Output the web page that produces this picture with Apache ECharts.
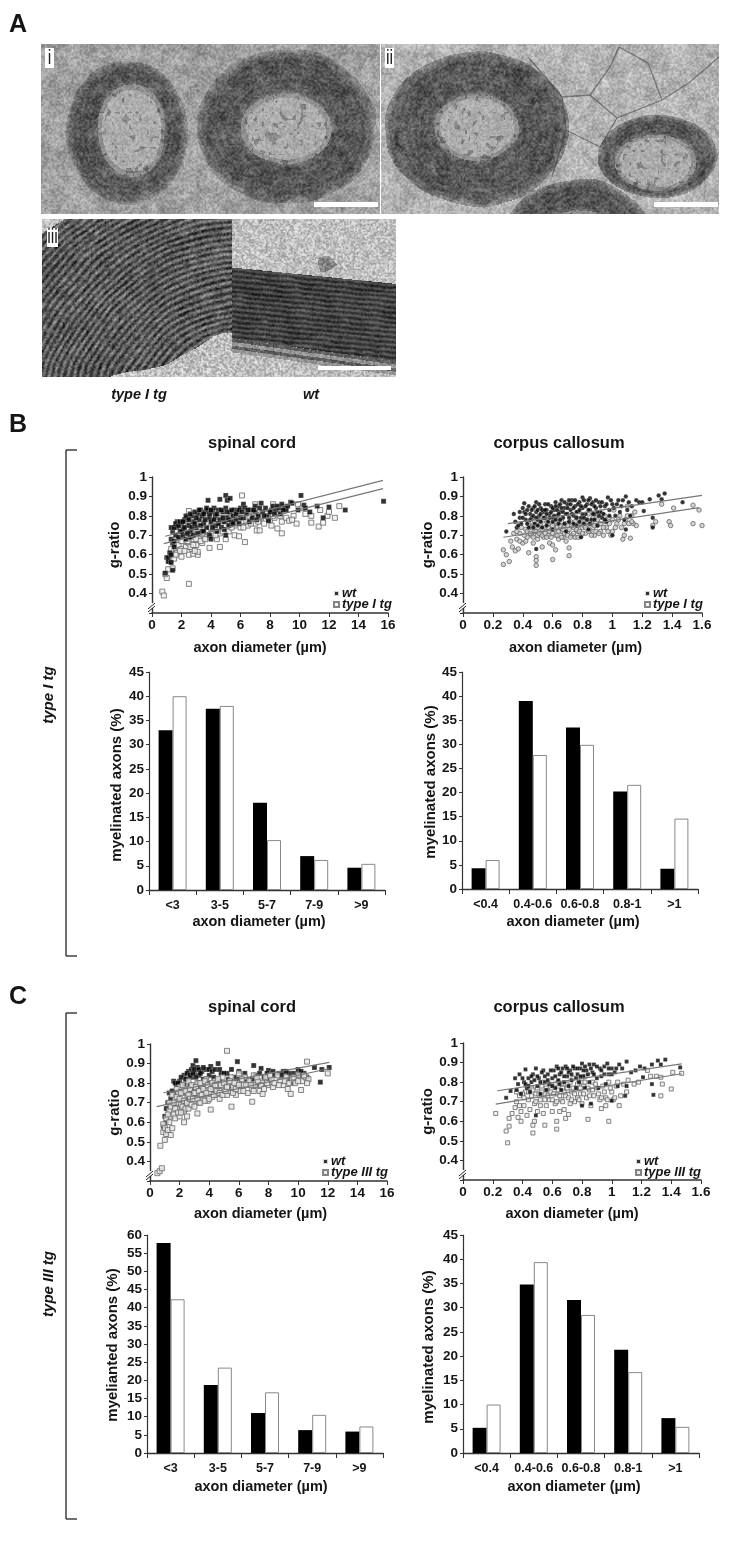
<!DOCTYPE html>
<html>
<head>
<meta charset="utf-8">
<title>g-ratio</title>
<script src="https://cdn.jsdelivr.net/npm/echarts@6/dist/echarts.min.js"></script>
<style>
html, body { margin: 0; padding: 0; background: #fff; }
#main { width: 750px; height: 1550px; }
</style>
</head>
<body>
<div id="main"></div>
<script>
// values
const spinalBins = ["<3", "3-5", "5-7", "7-9", ">9"];
const callosumBins = ["<0.4", "0.4-0.6", "0.6-0.8", "0.8-1", ">1"];

const barsSpinalIWt = [33, 37.4, 18, 7, 4.6];
const barsSpinalITg = [40, 38, 10.3, 6.2, 5.4];
const barsCallosumIWt = [4.3, 39, 33.5, 20.2, 4.2];
const barsCallosumITg = [6, 27.8, 29.9, 21.6, 14.6];
const barsSpinalIIIWt = [57.8, 18.7, 11, 6.3, 5.9];
const barsSpinalIIITg = [42.3, 23.5, 16.7, 10.5, 7.3];
const barsCallosumIIIWt = [5.2, 34.8, 31.6, 21.3, 7.2];
const barsCallosumIIITg = [10, 39.4, 28.5, 16.7, 5.4];

const fitSpinalIWt = [[0.9, 0.695], [15.66, 0.983]];
const fitSpinalITg = [[0.8, 0.657], [15.66, 0.94]];
const fitCallosumIWt = [[0.3, 0.76], [1.6, 0.905]];
const fitCallosumITg = [[0.27, 0.69], [1.58, 0.842]];
const fitSpinalIIIWt = [[0.9, 0.751], [12.1, 0.906]];
const fitSpinalIIITg = [[0.45, 0.68], [12.1, 0.875]];
const fitCallosumIIIWt = [[0.23, 0.756], [1.47, 0.893]];
const fitCallosumIIITg = [[0.22, 0.688], [1.47, 0.843]];

const spinalIWt = [[0.9,.505],[1,.585],[1.1,.585],[1.2,.61],[1.1,.565],[1.4,.52],[1.3,.56],[1.3,.6],[1.4,.66],[1.3,.68],[1.5,.64],[1.4,.72],[1.3,.74],[1.6,.7],[1.5,.67],[1.7,.77],[1.7,.74],[1.9,.72],[1.8,.69],[2,.76],[2.1,.73],[2.2,.78],[2.1,.7],[2.3,.68],[2.4,.79],[2.5,.75],[2.6,.72],[2.7,.8],[2.8,.77],[2.6,.69],[3,.74],[3.1,.81],[3.2,.78],[3.3,.83],[3.4,.72],[3.4,.8],[3.5,.76],[3.6,.82],[3.7,.74],[3.8,.88],[3.8,.83],[3.9,.7],[3.9,.79],[4,.68],[4,.77],[4.1,.82],[4.2,.84],[4.3,.75],[4.3,.8],[4.4,.72],[4.5,.83],[4.6,.885],[4.6,.78],[4.7,.74],[4.8,.82],[4.9,.77],[5,.905],[5,.84],[5,.7],[5.1,.88],[5.1,.79],[5.2,.75],[5.3,.82],[5.3,.89],[5.4,.77],[5.5,.8],[5.6,.83],[5.7,.78],[5.8,.82],[5.9,.76],[6,.84],[6.2,.86],[6.2,.79],[6.3,.84],[6.4,.81],[6.6,.77],[6.7,.83],[6.8,.79],[7,.82],[7,.85],[7.2,.8],[7.4,.865],[7.5,.82],[7.7,.84],[7.8,.8],[7.9,.775],[8.1,.83],[8.2,.85],[8.4,.83],[8.6,.84],[8.7,.81],[8.8,.86],[9,.84],[9.1,.83],[9.4,.87],[9.5,.865],[9.9,.83],[10.1,.905],[10.3,.855],[10.4,.84],[10.7,.82],[11.2,.85],[11.6,.79],[12,.845],[13.1,.83],[15.7,.875],
  [1.5,.74],[1.6,.76],[1.8,.75],[1.9,.77],[2,.72],[2.1,.77],[2.2,.74],[2.3,.8],[2.4,.71],[2.5,.78],[2.6,.81],[2.7,.74],[2.8,.7],[2.9,.82],[2.9,.76],[3,.79],[3.1,.71],[3.2,.83],[3.3,.75],[3.5,.81],[3.5,.72],[3.6,.78],[3.7,.84],[3.9,.81],[4,.83],[4.1,.74],[4.2,.78],[4.4,.81],[4.5,.76],[4.7,.83],[4.8,.79],[4.9,.73],[5.1,.82],[5.2,.78],[5.4,.83],[5.5,.76],[5.7,.81],[5.9,.83],[6,.79],[6.1,.82],[6.5,.83],[6.9,.83],[7.1,.78],[7.3,.84],[7.6,.8],[8,.82],[8.3,.81],[8.5,.85],[8.9,.83],[9.2,.85]];
const spinalITg = [[.7,.41],[.8,.39],[2.5,.45],[1,.48],[.9,.5],[1.1,.525],[1.4,.53],[1.2,.57],[1.3,.6],[1.5,.63],[1.6,.66],[1.7,.61],[1.8,.65],[1.9,.69],[2,.59],[2,.63],[2.1,.67],[2.1,.72],[2.2,.75],[2.3,.64],[2.3,.69],[2.4,.73],[2.5,.6],[2.5,.66],[2.5,.825],[2.6,.71],[2.6,.77],[2.7,.63],[2.8,.605],[2.8,.68],[2.9,.74],[2.9,.79],[3,.65],[3,.71],[3.1,.6],[3.1,.615],[3.1,.77],[3.2,.68],[3.3,.73],[3.3,.8],[3.4,.66],[3.5,.7],[3.5,.75],[3.6,.78],[3.7,.69],[3.8,.73],[3.9,.635],[3.9,.77],[4,.71],[4.1,.75],[4.2,.8],[4.3,.73],[4.4,.68],[4.4,.77],[4.5,.74],[4.6,.64],[4.6,.71],[4.7,.79],[4.8,.75],[5,.68],[5,.73],[5.1,.77],[5.2,.72],[5.3,.76],[5.4,.79],[5.6,.7],[5.6,.75],[5.8,.78],[5.9,.695],[6,.74],[6.1,.905],[6.2,.77],[6.3,.665],[6.5,.75],[6.6,.8],[6.8,.78],[7,.86],[7,.76],[7.1,.725],[7.3,.725],[7.4,.79],[7.6,.76],[7.8,.81],[8,.78],[8.1,.75],[8.2,.86],[8.3,.79],[8.5,.735],[8.6,.81],[8.8,.71],[8.8,.77],[8.9,.845],[9.1,.79],[9.3,.775],[9.6,.8],[9.8,.76],[9.9,.86],[10.2,.84],[10.4,.81],[10.8,.765],[10.8,.8],[11.3,.745],[11.4,.83],[11.6,.765],[11.9,.8],[12,.82],[12.4,.79],[12.7,.85],
  [1.3,.63],[1.5,.58],[1.6,.6],[1.8,.7],[1.9,.62],[2,.67],[2.1,.76],[2.2,.7],[2.2,.62],[2.3,.78],[2.4,.67],[2.5,.71],[2.6,.64],[2.7,.74],[2.7,.78],[2.8,.7],[2.8,.65],[2.9,.62],[3,.76],[3,.68],[3.1,.72],[3.2,.74],[3.3,.67],[3.3,.77],[3.4,.71],[3.5,.79],[3.6,.68],[3.6,.74],[3.7,.72],[3.8,.76],[3.9,.7],[4,.74],[4,.79],[4.1,.71],[4.2,.76],[4.3,.7],[4.5,.77],[4.6,.74],[4.8,.72],[4.9,.78],[5,.75],[5.2,.79],[5.4,.74],[5.7,.77],[5.9,.79],[6.2,.74],[6.4,.77],[6.7,.76],[7,.79],[7.2,.77],[7.5,.8],[7.9,.79],[8.2,.8],[8.7,.8],[9.5,.78]];

const callosumIWt = [[.29,.72],[.34,.81],[.35,.77],[.36,.74],[.38,.79],[.39,.76],[.41,.865],[.41,.82],[.42,.78],[.43,.83],[.44,.74],[.45,.81],[.46,.79],[.47,.84],[.48,.76],[.49,.87],[.49,.63],[.49,.82],[.5,.78],[.51,.8],[.52,.84],[.53,.74],[.54,.82],[.55,.86],[.55,.79],[.56,.83],[.57,.77],[.58,.81],[.59,.85],[.6,.79],[.6,.73],[.61,.83],[.62,.87],[.63,.8],[.64,.85],[.64,.76],[.65,.82],[.66,.88],[.67,.79],[.68,.84],[.69,.72],[.7,.86],[.7,.81],[.71,.77],[.72,.83],[.73,.88],[.74,.8],[.75,.85],[.76,.75],[.77,.82],[.78,.87],[.79,.69],[.79,.79],[.8,.895],[.8,.84],[.81,.76],[.82,.81],[.83,.86],[.84,.73],[.85,.89],[.85,.83],[.86,.78],[.87,.87],[.88,.81],[.89,.84],[.9,.75],[.91,.87],[.92,.82],[.93,.79],[.95,.85],[.96,.77],[.97,.895],[.98,.83],[1,.7],[1,.86],[1.02,.8],[1.04,.88],[1.06,.85],[1.08,.78],[1.09,.9],[1.09,.73],[1.11,.87],[1.13,.85],[1.16,.88],[1.18,.87],[1.2,.87],[1.21,.825],[1.25,.885],[1.27,.74],[1.27,.79],[1.31,.905],[1.33,.885],[1.35,.915],[1.47,.87],
  [.37,.75],[.38,.82],[.4,.79],[.4,.84],[.42,.81],[.43,.76],[.44,.85],[.45,.78],[.46,.83],[.47,.8],[.47,.74],[.48,.85],[.49,.79],[.5,.83],[.5,.75],[.51,.86],[.52,.81],[.52,.77],[.53,.83],[.54,.79],[.55,.83],[.56,.81],[.56,.75],[.57,.86],[.58,.79],[.59,.82],[.6,.84],[.6,.77],[.61,.8],[.62,.85],[.62,.78],[.63,.83],[.64,.81],[.65,.86],[.65,.78],[.66,.84],[.67,.82],[.68,.87],[.68,.76],[.69,.81],[.7,.84],[.71,.88],[.71,.79],[.72,.86],[.73,.81],[.74,.84],[.74,.76],[.75,.88],[.76,.82],[.76,.79],[.77,.86],[.78,.83],[.78,.77],[.79,.85],[.8,.81],[.81,.88],[.81,.79],[.82,.85],[.83,.78],[.84,.83],[.84,.88],[.85,.76],[.86,.86],[.87,.81],[.88,.85],[.88,.78],[.89,.88],[.9,.82],[.91,.8],[.92,.85],[.93,.87],[.94,.81],[.95,.78],[.96,.86],[.98,.8],[.99,.88],[1.01,.84],[1.03,.86],[1.05,.82],[1.07,.88],[1.1,.83],[1.12,.8]];
const callosumITg = [[.27,.55],[.27,.625],[.29,.6],[.31,.565],[.32,.67],[.33,.64],[.35,.62],[.36,.68],[.37,.63],[.38,.71],[.4,.66],[.42,.73],[.43,.69],[.44,.61],[.45,.75],[.46,.7],[.47,.66],[.48,.72],[.49,.59],[.49,.545],[.49,.57],[.5,.68],[.51,.75],[.52,.71],[.53,.64],[.54,.69],[.55,.74],[.56,.77],[.57,.7],[.58,.66],[.59,.73],[.6,.575],[.6,.65],[.61,.76],[.62,.625],[.62,.7],[.63,.74],[.64,.68],[.65,.78],[.66,.72],[.67,.69],[.68,.75],[.69,.67],[.7,.72],[.71,.595],[.71,.635],[.72,.77],[.73,.7],[.74,.74],[.75,.69],[.76,.79],[.77,.72],[.78,.76],[.79,.7],[.8,.74],[.81,.78],[.82,.71],[.83,.75],[.84,.81],[.85,.72],[.86,.77],[.87,.74],[.88,.7],[.89,.79],[.9,.75],[.92,.72],[.93,.81],[.94,.7],[.95,.77],[.96,.74],[.98,.79],[1,.72],[1.01,.83],[1.03,.76],[1.05,.8],[1.07,.68],[1.08,.7],[1.09,.78],[1.1,.85],[1.12,.685],[1.13,.8],[1.14,.76],[1.15,.82],[1.16,.75],[1.27,.75],[1.29,.77],[1.33,.86],[1.38,.77],[1.39,.75],[1.41,.84],[1.54,.855],[1.54,.76],[1.58,.83],[1.6,.75],
  [.34,.71],[.36,.72],[.38,.67],[.39,.74],[.41,.7],[.42,.67],[.43,.72],[.44,.76],[.45,.71],[.46,.74],[.47,.69],[.48,.77],[.49,.72],[.5,.7],[.5,.74],[.51,.71],[.52,.76],[.53,.7],[.53,.73],[.54,.78],[.55,.71],[.56,.69],[.57,.74],[.57,.76],[.58,.72],[.59,.69],[.6,.75],[.6,.71],[.61,.73],[.62,.77],[.63,.7],[.64,.72],[.65,.75],[.66,.69],[.66,.77],[.67,.73],[.68,.71],[.69,.76],[.7,.7],[.7,.75],[.71,.73],[.72,.69],[.73,.75],[.74,.71],[.75,.77],[.76,.73],[.77,.69],[.77,.75],[.78,.72],[.79,.77],[.8,.71],[.81,.75],[.82,.74],[.83,.78],[.84,.72],[.85,.76],[.86,.7],[.87,.79],[.88,.75],[.89,.72],[.9,.78],[.91,.71],[.92,.76],[.94,.74],[.95,.8],[.97,.72],[.98,.76],[.99,.7],[1,.78],[1.02,.74],[1.04,.78],[1.06,.74],[1.08,.76],[1.1,.8],[1.11,.76],[1.13,.77]];

const spinalIIIWt = [[.9,.58],[1,.63],[1.1,.6],[1.1,.67],[1.2,.7],[1.3,.75],[1.4,.72],[1.5,.76],[1.6,.81],[1.6,.69],[1.7,.74],[1.8,.79],[1.9,.72],[2,.81],[2,.76],[2.1,.7],[2.2,.78],[2.3,.84],[2.3,.67],[2.4,.75],[2.5,.82],[2.6,.86],[2.6,.72],[2.7,.79],[2.8,.87],[2.8,.83],[2.9,.89],[2.9,.76],[3,.85],[3,.74],[3.1,.915],[3.2,.88],[3.2,.8],[3.3,.84],[3.4,.78],[3.5,.86],[3.6,.82],[3.7,.75],[3.8,.87],[3.9,.8],[4,.84],[4.1,.885],[4.2,.78],[4.3,.83],[4.5,.76],[4.6,.9],[4.7,.81],[4.8,.85],[5,.79],[5.2,.85],[5.3,.82],[5.5,.77],[5.7,.83],[5.9,.91],[6,.82],[6.1,.78],[6.4,.85],[6.7,.8],[7,.89],[7.1,.84],[7.2,.79],[7.5,.875],[7.7,.83],[8,.865],[8.1,.82],[8.3,.86],[8.7,.85],[9,.86],[9.3,.82],[9.4,.85],[9.6,.8],[9.7,.85],[10,.87],[10.1,.84],[10.4,.85],[10.6,.83],[11.1,.88],[11.5,.805],[11.6,.87],[12.1,.88],
  [1.7,.8],[1.9,.8],[2.1,.83],[2.3,.79],[2.4,.82],[2.5,.85],[2.7,.84],[2.9,.85],[3,.87],[3.1,.83],[3.3,.87],[3.4,.85],[3.6,.88],[3.8,.82],[4,.87],[4.2,.86],[4.4,.87],[4.7,.87],[5,.85],[5.5,.87],[6,.86],[6.5,.82],[6.9,.82],[7.4,.85],[7.9,.85],[8.4,.84],[8.9,.84],[9.2,.86],[9.9,.84],[10.2,.86]];
const spinalIIITg = [[.5,.34],[.65,.35],[.8,.365],[.7,.48],[.9,.55],[.9,.59],[1,.51],[1,.57],[1.1,.54],[1.1,.62],[1.2,.56],[1.3,.6],[1.3,.66],[1.4,.535],[1.4,.63],[1.5,.57],[1.5,.69],[1.6,.64],[1.7,.72],[1.7,.62],[1.8,.67],[1.9,.75],[1.9,.7],[2,.63],[2,.78],[2.1,.69],[2.2,.73],[2.3,.6],[2.3,.66],[2.3,.77],[2.4,.71],[2.5,.63],[2.5,.75],[2.6,.81],[2.7,.69],[2.8,.73],[2.9,.78],[3,.71],[3.1,.75],[3.2,.645],[3.2,.8],[3.3,.7],[3.4,.74],[3.5,.78],[3.6,.72],[3.7,.76],[3.8,.82],[3.9,.71],[4,.75],[4.1,.665],[4.1,.79],[4.2,.73],[4.3,.77],[4.4,.81],[4.5,.74],[4.6,.79],[4.7,.72],[4.8,.76],[4.9,.83],[5,.78],[5.2,.965],[5.2,.74],[5.3,.8],[5.4,.76],[5.5,.68],[5.5,.83],[5.6,.78],[5.8,.74],[5.9,.8],[6,.85],[6.1,.76],[6.3,.79],[6.4,.83],[6.6,.75],[6.7,.81],[6.9,.705],[6.9,.77],[7,.84],[7.1,.79],[7.3,.81],[7.4,.76],[7.6,.745],[7.6,.8],[7.8,.83],[8,.79],[8.2,.82],[8.3,.78],[8.6,.84],[8.8,.81],[9,.79],[9.2,.83],[9.3,.77],[9.5,.745],[9.6,.82],[9.8,.8],[10,.84],[10.2,.765],[10.3,.81],[10.5,.83],[10.6,.91],[10.7,.82],[12,.85],
  [1.2,.64],[1.3,.7],[1.4,.68],[1.5,.74],[1.6,.7],[1.7,.67],[1.8,.73],[1.8,.77],[1.9,.65],[2,.72],[2.1,.75],[2.1,.65],[2.2,.68],[2.2,.79],[2.3,.71],[2.4,.76],[2.4,.67],[2.5,.7],[2.6,.74],[2.6,.67],[2.7,.77],[2.7,.72],[2.8,.69],[2.8,.79],[2.9,.72],[3,.75],[3,.68],[3.1,.78],[3.2,.72],[3.3,.76],[3.4,.7],[3.4,.8],[3.5,.74],[3.6,.77],[3.7,.71],[3.7,.81],[3.8,.75],[3.9,.79],[4,.72],[4.1,.77],[4.2,.8],[4.3,.74],[4.4,.79],[4.5,.76],[4.6,.82],[4.7,.75],[4.8,.79],[4.9,.74],[5,.8],[5.1,.76],[5.2,.78],[5.4,.81],[5.6,.75],[5.7,.8],[5.8,.77],[6,.79],[6.2,.82],[6.3,.76],[6.5,.79],[6.8,.79],[7,.76],[7.2,.83],[7.5,.79],[7.7,.77],[7.9,.8],[8.1,.84],[8.4,.8],[8.7,.79],[9.1,.81],[9.4,.8],[9.7,.83],[10,.81],[10.4,.84],[10.6,.8]];

const callosumIIIWt = [[.29,.72],[.32,.755],[.35,.82],[.36,.76],[.37,.79],[.38,.84],[.39,.74],[.41,.8],[.42,.865],[.43,.77],[.44,.82],[.45,.75],[.46,.8],[.47,.84],[.49,.87],[.49,.63],[.5,.78],[.51,.82],[.52,.74],[.54,.86],[.55,.8],[.56,.76],[.57,.84],[.58,.79],[.6,.82],[.61,.86],[.62,.77],[.63,.88],[.64,.81],[.65,.84],[.66,.76],[.67,.87],[.68,.8],[.69,.88],[.7,.83],[.71,.78],[.72,.86],[.73,.81],[.75,.87],[.76,.77],[.77,.84],[.78,.8],[.79,.87],[.8,.895],[.8,.68],[.81,.83],[.82,.77],[.83,.86],[.85,.89],[.85,.8],[.86,.69],[.87,.85],[.88,.89],[.9,.82],[.91,.77],[.92,.87],[.93,.83],[.95,.88],[.96,.79],[.97,.895],[.98,.84],[1,.705],[1,.87],[1.02,.85],[1.04,.78],[1.05,.89],[1.07,.87],[1.09,.73],[1.1,.905],[1.1,.78],[1.13,.85],[1.16,.86],[1.19,.88],[1.21,.825],[1.22,.87],[1.27,.89],[1.27,.79],[1.28,.735],[1.31,.91],[1.33,.89],[1.36,.915],[1.46,.875],
  [.4,.82],[.42,.79],[.44,.78],[.46,.83],[.48,.81],[.5,.83],[.52,.8],[.53,.85],[.55,.83],[.57,.81],[.59,.86],[.6,.78],[.62,.83],[.64,.87],[.65,.79],[.66,.85],[.68,.83],[.7,.87],[.71,.85],[.73,.84],[.74,.88],[.76,.82],[.77,.87],[.79,.83],[.81,.86],[.82,.88],[.84,.84],[.86,.87],[.88,.84],[.9,.88],[.93,.86],[.95,.84],[.98,.87],[1,.84],[1.03,.87]];
const callosumIIITg = [[.22,.64],[.29,.55],[.3,.49],[.31,.575],[.31,.615],[.33,.64],[.35,.67],[.36,.7],[.37,.62],[.38,.73],[.39,.65],[.39,.6],[.41,.68],[.42,.75],[.43,.63],[.44,.71],[.45,.66],[.46,.77],[.47,.54],[.47,.58],[.48,.6],[.48,.69],[.49,.74],[.5,.65],[.52,.71],[.53,.78],[.54,.64],[.55,.58],[.55,.74],[.56,.68],[.57,.76],[.58,.71],[.6,.65],[.61,.78],[.62,.69],[.63,.56],[.63,.6],[.63,.74],[.64,.8],[.65,.65],[.66,.71],[.67,.77],[.68,.66],[.69,.615],[.69,.73],[.7,.79],[.71,.635],[.72,.69],[.73,.75],[.74,.82],[.75,.7],[.76,.77],[.77,.72],[.78,.8],[.79,.74],[.8,.69],[.81,.78],[.82,.83],[.83,.72],[.84,.61],[.85,.76],[.86,.68],[.87,.8],[.88,.73],[.9,.77],[.92,.71],[.93,.665],[.94,.78],[.96,.68],[.96,.72],[.98,.6],[.98,.8],[1,.75],[1.01,.71],[1.03,.78],[1.05,.68],[1.06,.73],[1.08,.79],[1.1,.75],[1.11,.81],[1.15,.79],[1.18,.8],[1.24,.86],[1.26,.83],[1.3,.83],[1.33,.825],[1.33,.73],[1.34,.79],[1.4,.765],[1.41,.85],[1.47,.845],
  [.36,.75],[.38,.68],[.4,.74],[.41,.72],[.43,.78],[.44,.75],[.46,.73],[.47,.76],[.49,.7],[.5,.77],[.51,.74],[.52,.68],[.53,.75],[.54,.8],[.55,.71],[.56,.77],[.57,.73],[.58,.79],[.59,.75],[.6,.71],[.61,.74],[.62,.79],[.63,.7],[.64,.76],[.65,.73],[.66,.79],[.67,.7],[.68,.75],[.7,.77],[.71,.72],[.72,.8],[.73,.71],[.74,.77],[.75,.74],[.77,.79],[.78,.71],[.79,.77],[.8,.82],[.81,.74],[.82,.8],[.84,.77],[.85,.73],[.87,.76],[.89,.79],[.91,.74],[.93,.72],[.95,.75],[.97,.71],[.99,.77],[1.02,.72],[1.04,.8]];

const sans = "'Liberation Sans', Arial, sans-serif";
const ink = "#151515";

// paints the electron micrographs of panel A (texture only, no data in here)
function grain(x, y) {
  const s = Math.sin(x * 127.1 + y * 311.7) * 43758.5453;
  return s - Math.floor(s);
}
function soft(x, y) {
  const ix = Math.floor(x), iy = Math.floor(y), fx = x - ix, fy = y - iy;
  const a = grain(ix, iy), b = grain(ix + 1, iy), c = grain(ix, iy + 1), d = grain(ix + 1, iy + 1);
  return (a * (1 - fx) + b * fx) * (1 - fy) + (c * (1 - fx) + d * fx) * fy;
}
const sheaths = [
  [127, 132, 60, 70, 131, 130, 34, 47],
  [286, 126, 88, 76, 286, 128, 46, 35],
  [476, 128, 90, 76, 476, 127, 42, 33],
  [657, 156, 58, 41, 655, 162, 41, 28],
  [578, 250, 78, 70, 578, 262, 62, 52]
];
function toneTop(x, y) {
  const fine = soft(x / 1.6, y / 1.6) - 0.5, coarse = soft(x / 9, y / 9) - 0.5, wide = soft(x / 22, y / 22) - 0.5;
  let g = (x < 380 ? 160 : 178) + fine * 60 + coarse * 34;
  for (const [cx, cy, rx, ry, ix, iy, irx, iry] of sheaths) {
    const wob = 1 + wide * 0.05;
    const e = Math.hypot((x - cx) / rx, (y - cy) / ry) * wob;
    if (e >= 1.02) continue;
    const i = Math.hypot((x - ix) / irx, (y - iy) / iry) * wob;
    if (i < 1) {
      const dots = soft(x / 3.5, y / 3.5) > 0.74 ? -38 : 0;
      g = 172 + fine * 45 + dots - (i > 0.88 ? 28 : 0);
    } else {
      g = 88 + Math.sin(e * 70 + coarse * 6) * 7 + fine * 62 + coarse * 34;
      if (e > 0.9) g += (e - 0.9) * 350;
      if (i < 1.1) g += (1.1 - i) * 180;
    }
    break;
  }
  return g;
}
function toneBottom(x, y) {
  const fine = soft(x / 1.4, y / 1.4) - 0.5, coarse = soft(x / 8, y / 8) - 0.5, wide = soft(x / 28, y / 28) - 0.5;
  if (x < 232) {
    const edge = 335 + (232 - x) * 0.33 + wide * 16;
    if (y > edge || (x - 42) + (y - 219) * 1.6 < 22) return 192 + fine * 100;
    const r = Math.hypot(x - 250, y - 440) + wide * 5;
    const brk = soft(x / 6, y / 2.5) * 0.8 + 0.4;
    return 90 + Math.sin(r * 1.05) * 42 * brk + fine * 70 + coarse * 26;
  }
  const top = 267 + (x - 232) * 0.1, bottom = 338 + (x - 232) * 0.14;
  if (y > top && y < bottom) return 66 + Math.sin((y - top) * 1.25 + coarse * 2) * 22 + fine * 40 + coarse * 26;
  if (y >= bottom && y < bottom + 14) return (Math.sin((y - bottom) * 0.9) > 0.1 ? 95 : 150) + fine * 60;
  const smudge = Math.hypot(x - 327, y - 262) < 8 + coarse * 8 ? -60 : 0;
  return 192 + fine * 90 + smudge;
}
function paintMicrographs() {
  const w = 680, h = 335;
  const raw = document.createElement("canvas");
  raw.width = w;
  raw.height = h;
  const ctx = raw.getContext("2d");
  const img = ctx.createImageData(w, h);
  for (let py = 0; py < h; py++) {
    for (let px = 0; px < w; px++) {
      const x = px + 41, y = py + 44, k = (py * w + px) * 4;
      let g = 255;
      if (y < 214 && x !== 380 && x < 719) g = toneTop(x, y);
      else if (y >= 219 && x >= 42 && x < 396 && y < 377) g = toneBottom(x, y);
      img.data[k] = img.data[k + 1] = img.data[k + 2] = Math.max(0, Math.min(255, g));
      img.data[k + 3] = 255;
    }
  }
  ctx.putImageData(img, 0, 0);
  // membranes between the small fibres, panel ii
  ctx.strokeStyle = "rgba(60,60,60,0.55)";
  ctx.lineWidth = 1.3;
  const walls = [
    [[528, 57], [548, 80], [562, 97], [590, 95], [617, 118], [662, 100], [690, 82], [719, 57]],
    [[590, 95], [610, 67], [619, 47]],
    [[619, 47], [648, 63], [662, 100]],
    [[566, 130], [600, 147], [617, 118]],
    [[562, 97], [566, 130], [552, 177]]
  ];
  walls.forEach((pts) => {
    ctx.beginPath();
    pts.forEach((p, i) => (i ? ctx.lineTo(p[0] - 41, p[1] - 44) : ctx.moveTo(p[0] - 41, p[1] - 44)));
    ctx.stroke();
  });
  // the reference is a soft scan, so blur a little
  const out = document.createElement("canvas");
  out.width = w;
  out.height = h;
  const octx = out.getContext("2d");
  octx.filter = "blur(0.7px)";
  octx.drawImage(raw, 0, 0);
  return out;
}

function txt(text, x, y, font, rotation) {
  return {
    type: "text",
    x: x,
    y: y,
    rotation: rotation || 0,
    z: 20,
    style: { text: text, font: font, fill: ink, align: "center", verticalAlign: "middle" }
  };
}
function seg(x1, y1, x2, y2, width) {
  return { type: "line", z: 20, shape: { x1, y1, x2, y2 }, style: { stroke: "#222", lineWidth: width || 1.3 } };
}
function breakMark(x, y) {
  return [
    { type: "rect", z: 19, shape: { x: x - 3, y: y - 3, width: 6, height: 5 }, style: { fill: "#fff" } },
    seg(x - 4, y + 3, x + 3, y - 3, 1),
    seg(x - 4, y + 6, x + 3, y, 1)
  ];
}
function tagLabel(text, x, y, w, h, size) {
  return [
    { type: "rect", z: 20, shape: { x, y, width: w, height: h }, style: { fill: "#fff" } },
    { type: "text", z: 21, x: x + w / 2, y: y + h / 2, scaleX: 0.8, style: { text, font: size + "px " + sans, fill: "#222", align: "center", verticalAlign: "middle" } }
  ];
}
function scaleBar(x, y, w, h) {
  return { type: "rect", z: 20, shape: { x, y, width: w, height: h }, style: { fill: "#fff" } };
}

const grids = [], xAxes = [], yAxes = [], series = [], legends = [], titles = [];

function axisText(size) {
  return { show: true, color: ink, fontFamily: sans, fontWeight: "bold", fontSize: size, margin: 5 };
}
function nameText(size, shift) {
  return { color: ink, fontFamily: sans, fontWeight: "bold", fontSize: size, padding: shift > 0 ? [0, shift * 2, 0, 0] : [0, 0, 0, -shift * 2] };
}

function addScatter(box, opt) {
  const idx = grids.length;
  grids.push({ left: box.x0, top: box.y1, width: box.x1 - box.x0, height: box.y0 - box.y1 });
  xAxes.push({
    gridIndex: idx, type: "value", min: 0, max: opt.xMax, interval: opt.xStep,
    name: "axon diameter (µm)", nameLocation: "middle", nameGap: opt.xNameGap,
    nameTextStyle: nameText(14.5, opt.xShift),
    axisLine: { onZero: false, lineStyle: { color: "#333", width: 1.6 } },
    axisTick: { show: true, length: 4, lineStyle: { color: "#333" } },
    splitLine: { show: false },
    axisLabel: Object.assign(axisText(13.5), { hideOverlap: false, formatter: (v) => String(+v.toFixed(1)) })
  });
  yAxes.push({
    gridIndex: idx, type: "value", min: 0.3, max: 1, interval: 0.1,
    name: "g-ratio", nameLocation: "middle", nameGap: opt.yNameGap,
    nameTextStyle: nameText(15, 0),
    axisLine: { onZero: false, lineStyle: { color: "#333", width: 1.4 } },
    axisTick: { show: true, length: 3, lineStyle: { color: "#333" } },
    splitLine: { show: false },
    axisLabel: Object.assign(axisText(13.5), { formatter: (v) => (v < 0.35 ? "" : String(+v.toFixed(1))) })
  });
  const common = { type: "scatter", xAxisIndex: idx, yAxisIndex: idx, symbol: opt.symbol, symbolSize: opt.size, silent: true };
  // which group lies on top differs from panel to panel in the figure
  series.push(Object.assign({}, common, {
    name: "wt", data: opt.wt, z: opt.wtOnTop ? 4 : 3,
    itemStyle: { color: "#000", borderColor: "#fff", borderWidth: 0.3 }
  }));
  series.push(Object.assign({}, common, {
    name: opt.tgName, data: opt.tg, z: opt.wtOnTop ? 3 : 4,
    itemStyle: { color: opt.tgFill, borderColor: "#666", borderWidth: 1 }
  }));
  [opt.fitWt, opt.fitTg].forEach((fit, i) => {
    series.push({
      type: "line", name: "fit " + i, xAxisIndex: idx, yAxisIndex: idx, data: fit,
      symbol: "none", silent: true, z: 5, lineStyle: { color: "#777", width: 1.2 }
    });
  });
  legends.push({
    left: opt.legendX, top: opt.legendY, orient: "vertical", itemGap: -2, itemWidth: 5, itemHeight: 5,
    padding: 0, selectedMode: false,
    data: [{ name: "wt", icon: "rect" }, { name: opt.tgName, icon: "rect" }],
    textStyle: { color: ink, fontFamily: sans, fontWeight: "bold", fontStyle: "italic", fontSize: 13, lineHeight: 12, padding: [0, 0, 0, -2] }
  });
}

function addBars(box, opt) {
  const idx = grids.length;
  grids.push({ left: box.x0, top: box.y1, width: box.x1 - box.x0, height: box.y0 - box.y1 });
  xAxes.push({
    gridIndex: idx, type: "category", data: opt.bins, boundaryGap: true,
    name: "axon diameter (µm)", nameLocation: "middle", nameGap: opt.xNameGap,
    nameTextStyle: nameText(14.5, opt.xShift),
    axisLine: { lineStyle: { color: "#333", width: 1.4 } },
    axisTick: { show: true, alignWithLabel: false, interval: 0, length: 5, lineStyle: { color: "#333" } },
    axisLabel: Object.assign(axisText(12.5), { interval: 0, margin: 9 })
  });
  yAxes.push({
    gridIndex: idx, type: "value", min: 0, max: opt.yMax, interval: 5,
    name: opt.yName, nameLocation: "middle", nameGap: opt.yNameGap,
    nameTextStyle: nameText(15, opt.yShift),
    axisLine: { show: true, lineStyle: { color: "#333", width: 1.2 } },
    axisTick: { show: true, length: 3, lineStyle: { color: "#333" } },
    splitLine: { show: false },
    axisLabel: axisText(13.5)
  });
  series.push({
    type: "bar", name: "wt bars", xAxisIndex: idx, yAxisIndex: idx, data: opt.wt,
    barWidth: 14, barGap: "0%", silent: true, itemStyle: { color: "#000" }
  });
  series.push({
    type: "bar", name: "tg bars", xAxisIndex: idx, yAxisIndex: idx, data: opt.tg,
    barWidth: 14, barGap: "0%", silent: true, itemStyle: { color: "#fff", borderColor: "#888", borderWidth: 1 }
  });
}

addScatter({ x0: 152, x1: 388, y0: 613, y1: 477 }, {
  xMax: 16, xStep: 2, wt: spinalIWt, tg: spinalITg, fitWt: fitSpinalIWt, fitTg: fitSpinalITg, tgName: "type I tg", tgFill: "#f2f2f2", wtOnTop: true,
  symbol: "rect", size: 5, xNameGap: 27, xShift: 10, yNameGap: 30, legendX: 333, legendY: 587
});
addScatter({ x0: 463, x1: 702, y0: 613, y1: 477 }, {
  xMax: 1.6, xStep: 0.2, wt: callosumIWt, tg: callosumITg, fitWt: fitCallosumIWt, fitTg: fitCallosumITg, tgName: "type I tg", tgFill: "#c8c8c8", wtOnTop: true,
  symbol: "circle", size: 4.5, xNameGap: 27, xShift: 7, yNameGap: 27, legendX: 644, legendY: 587
});
addBars({ x0: 149, x1: 385, y0: 890, y1: 672 }, {
  bins: spinalBins, wt: barsSpinalIWt, tg: barsSpinalITg, yMax: 45, yName: "myelinated axons (%)",
  xNameGap: 24, xShift: 8, yNameGap: 25, yShift: 4
});
addBars({ x0: 462, x1: 698, y0: 889, y1: 672 }, {
  bins: callosumBins, wt: barsCallosumIWt, tg: barsCallosumITg, yMax: 45, yName: "myelinated axons (%)",
  xNameGap: 25, xShift: 7, yNameGap: 24, yShift: 1.5
});
addScatter({ x0: 150, x1: 387, y0: 1181, y1: 1044 }, {
  xMax: 16, xStep: 2, wt: spinalIIIWt, tg: spinalIIITg, fitWt: fitSpinalIIIWt, fitTg: fitSpinalIIITg, tgName: "type III tg", tgFill: "#e6e6e6", wtOnTop: false,
  symbol: "rect", size: 5, xNameGap: 25, xShift: 8, yNameGap: 28, legendX: 322, legendY: 1155
});
addScatter({ x0: 463, x1: 701, y0: 1180, y1: 1043 }, {
  xMax: 1.6, xStep: 0.2, wt: callosumIIIWt, tg: callosumIIITg, fitWt: fitCallosumIIIWt, fitTg: fitCallosumIIITg, tgName: "type III tg", tgFill: "#eee", wtOnTop: true,
  symbol: "rect", size: 4, xNameGap: 26, xShift: 10, yNameGap: 23, legendX: 635, legendY: 1155
});
addBars({ x0: 147, x1: 383, y0: 1453, y1: 1235 }, {
  bins: spinalBins, wt: barsSpinalIIIWt, tg: barsSpinalIIITg, yMax: 60, yName: "myelianted axons (%)",
  xNameGap: 26, xShift: 4, yNameGap: 27, yShift: 1
});
addBars({ x0: 463, x1: 699, y0: 1453, y1: 1235 }, {
  bins: callosumBins, wt: barsCallosumIIIWt, tg: barsCallosumIIITg, yMax: 45, yName: "myelinated axons (%)",
  xNameGap: 26, xShift: 7, yNameGap: 27, yShift: 3
});

[[252, 435, "spinal cord"], [559, 435, "corpus callosum"], [252, 999, "spinal cord"], [559, 999, "corpus callosum"]].forEach((t) => {
  titles.push({
    text: t[2], left: t[0], top: t[1], textAlign: "center", padding: 0,
    textStyle: { color: ink, fontFamily: sans, fontWeight: "bold", fontSize: 16.5 }
  });
});

const heading = "bold 25px " + sans;
const tilted = "bold italic 15px " + sans;
const extras = [
  { type: "image", z: 1, style: { image: paintMicrographs(), x: 41, y: 44, width: 680, height: 335 } },
  scaleBar(314, 202, 64, 5), scaleBar(654, 202, 64, 5), scaleBar(318, 366, 73, 4),
  ...tagLabel("i", 45, 48, 9, 20, 20), ...tagLabel("ii", 385, 48, 9, 20, 20), ...tagLabel("iii", 47, 228, 11, 19, 20),
  txt("A", 18, 25, heading), txt("B", 18, 425, heading), txt("C", 18, 997, heading),
  txt("type I tg", 139, 395, "bold italic 14.5px " + sans), txt("wt", 311, 395, "bold italic 14.5px " + sans),
  txt("type I tg", 49, 695, tilted, Math.PI / 2), txt("type III tg", 49, 1284, tilted, Math.PI / 2),
  seg(77, 450, 66, 450), seg(66, 450, 66, 956), seg(66, 956, 77, 956),
  seg(77, 1013, 66, 1013), seg(66, 1013, 66, 1519), seg(66, 1519, 77, 1519),
  ...breakMark(152, 606), ...breakMark(463, 606), ...breakMark(150, 1174), ...breakMark(463, 1173)
];

const chart = echarts.init(document.getElementById("main"), null, { width: 750, height: 1550 });
chart.setOption({
  animation: false,
  backgroundColor: "#fff",
  title: titles,
  legend: legends,
  grid: grids,
  xAxis: xAxes,
  yAxis: yAxes,
  series: series,
  graphic: { elements: extras }
});
</script>
</body>
</html>
